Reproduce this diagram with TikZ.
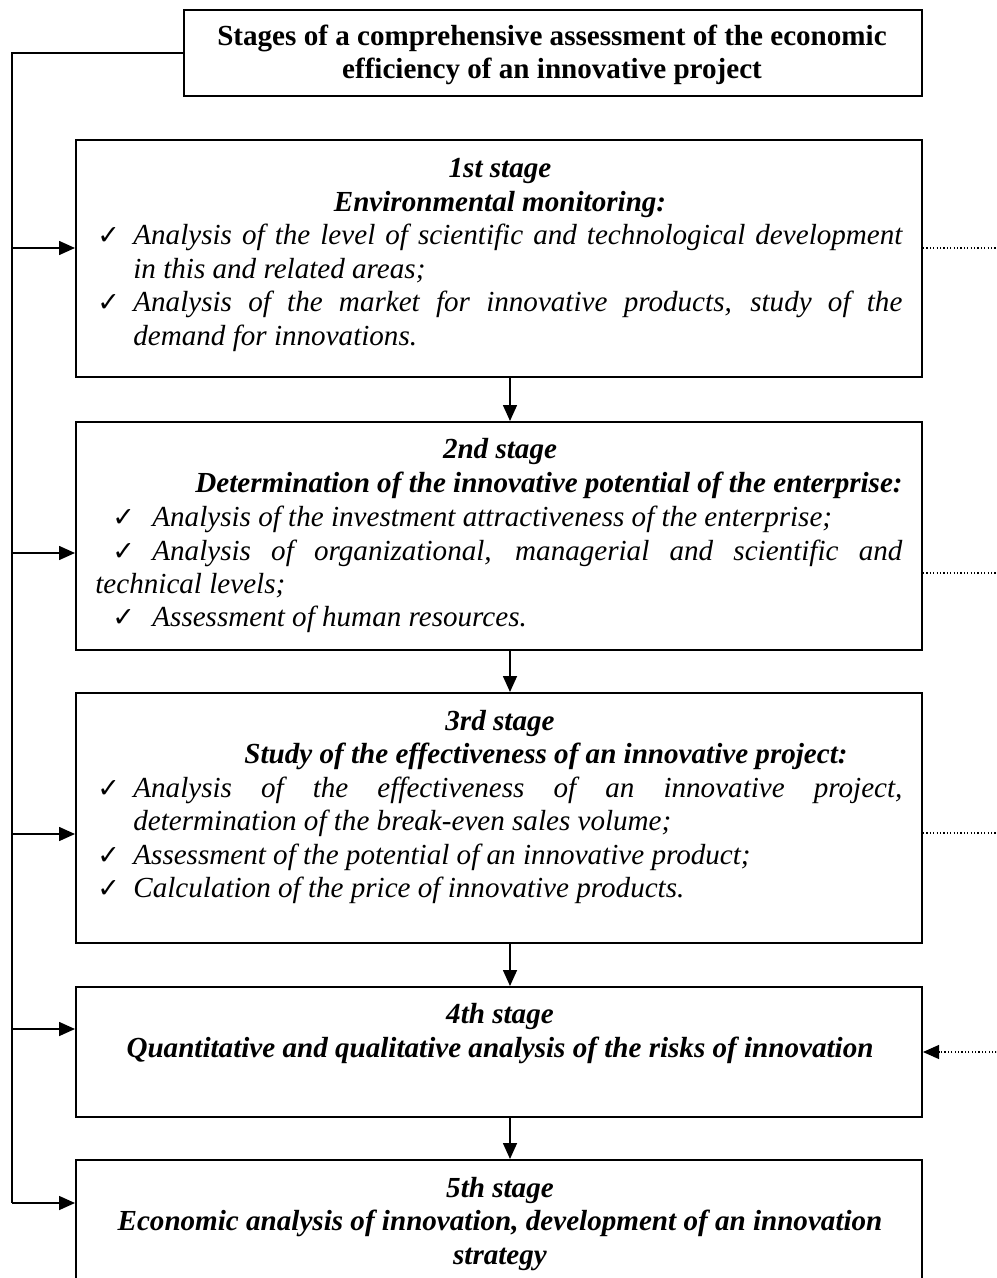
\documentclass[tikz,border=0pt]{standalone}
\usepackage{fontspec}
\setmainfont{Liberation Serif}
\newfontfamily\symf{DejaVu Sans}
\usetikzlibrary{arrows.meta,fit}
\hyphenpenalty=10000
\exhyphenpenalty=10000
\tikzset{
  box/.style={draw, line width=1pt, inner sep=0pt},
  arr/.style={line width=0.8pt, -{Triangle[length=8pt,width=7pt]}},
  dots/.style={line width=0.6pt, dash pattern=on 0.6pt off 1.1pt},
  dotarr/.style={dots, -{Triangle[length=8pt,width=7pt]}},
  ln/.style={line width=0.8pt},
  txt/.style={inner sep=0pt, font=\fontsize{14.55}{16.75}\selectfont},
  hd/.style={txt, align=center, font=\fontsize{14.55}{16.75}\selectfont\bfseries\itshape},
  ck/.style={inner sep=0pt, anchor=base west, font=\fontsize{13.5}{14}\selectfont\symf},
  it/.style={txt, anchor=base west, font=\fontsize{14.55}{16.75}\selectfont\itshape},
  itj/.style={it, text width=384.5pt, align=justify}
}
\begin{document}
\begin{tikzpicture}[x=0.5pt,y=-0.5pt]
\useasboundingbox (0,0) rectangle (996,1278);
\clip (0,0) rectangle (996,1278);
% boxes
\node[box, fit={(184,10) (922,96)}] (T) {};
\node[box, fit={(76,140) (922,377)}] (b1) {};
\node[box, fit={(76,422) (922,650)}] (b2) {};
\node[box, fit={(76,693) (922,943)}] (b3) {};
\node[box, fit={(76,987) (922,1117)}] (b4) {};
\node[box, fit={(76,1160) (922,1320)}] (b5) {};
% title
\node[txt, anchor=base, align=center, font=\fontsize{14.55}{16.75}\selectfont\bfseries] (tt) at (552,79)
  {Stages of a comprehensive assessment of the economic\\efficiency of an innovative project};
% box 1
\node[hd, anchor=base] (h1) at (500,211.5) {1st stage\\Environmental monitoring:};
\node[ck] (c11) at (97,245) {✓};
\node[itj] (t11) at (133,245) {Analysis of the level of scientific and technological development\linebreak in this and related areas;};
\node[ck] (c12) at (97,312) {✓};
\node[itj] (t12) at (133,312) {Analysis of the market for innovative products, study of the\linebreak demand for innovations.};
% box 2
\node[hd, anchor=base] (h2a) at (500,458) {2nd stage};
\node[hd, anchor=base east] (h2b) at (903,492) {Determination of the innovative potential of the enterprise:};
\node[ck] (c21) at (112,526) {✓};
\node[it] (t21) at (152,526) {Analysis of the investment attractiveness of the enterprise;};
\node[ck] (c22) at (112,560) {✓};
\node[it, text width=403.5pt, align=justify] (t22) at (95,560) {\hspace*{28.5pt}Analysis of organizational, managerial and scientific and\linebreak technical levels;};
\node[ck] (c23) at (112,626) {✓};
\node[it] (t23) at (152,626) {Assessment of human resources.};
% box 3
\node[hd, anchor=base] (h3a) at (500,730) {3rd stage};
\node[hd, anchor=base west] (h3b) at (244,763.5) {Study of the effectiveness of an innovative project:};
\node[ck] (c31) at (97,797) {✓};
\node[itj] (t31) at (133,797) {Analysis of the effectiveness of an innovative project,\linebreak determination of the break-even sales volume;};
\node[ck] (c32) at (97,864) {✓};
\node[it] (t32) at (133,864) {Assessment of the potential of an innovative product;};
\node[ck] (c33) at (97,897.5) {✓};
\node[it] (t33) at (133,897.5) {Calculation of the price of innovative products.};
% box 4
\node[hd, anchor=base] (h4) at (500,1057) {4th stage\\Quantitative and qualitative analysis of the risks of innovation};
% box 5
\node[hd, anchor=base] (h5) at (500,1264) {5th stage\\Economic analysis of innovation, development of an innovation\\strategy};
% connectors
\coordinate (ax) at (510,0);
\coordinate (la1) at (12,248);
\coordinate (la2) at (12,553);
\coordinate (la3) at (12,834);
\coordinate (la4) at (12,1029);
\coordinate (la5) at (12,1203);
\coordinate (r1) at (1000,248);
\coordinate (r2) at (1000,573);
\coordinate (r3) at (1000,833);
\coordinate (r4) at (1000,1052);
\draw[ln] (T.west |- 0,53) -| (la5);
\draw[arr] (la1) -- (la1 -| b1.west);
\draw[arr] (la2) -- (la2 -| b2.west);
\draw[arr] (la3) -- (la3 -| b3.west);
\draw[arr] (la4) -- (la4 -| b4.west);
\draw[arr] (la5) -- (la5 -| b5.west);
\draw[arr] (b1.south -| ax) -- (b2.north -| ax);
\draw[arr] (b2.south -| ax) -- (b3.north -| ax);
\draw[arr] (b3.south -| ax) -- (b4.north -| ax);
\draw[arr] (b4.south -| ax) -- (b5.north -| ax);
\draw[dots] (r1 -| b1.east) -- (r1);
\draw[dots] (r2 -| b2.east) -- (r2);
\draw[dots] (r3 -| b3.east) -- (r3);
\draw[dotarr] (r4) -- (r4 -| b4.east);
\end{tikzpicture}
\end{document}
